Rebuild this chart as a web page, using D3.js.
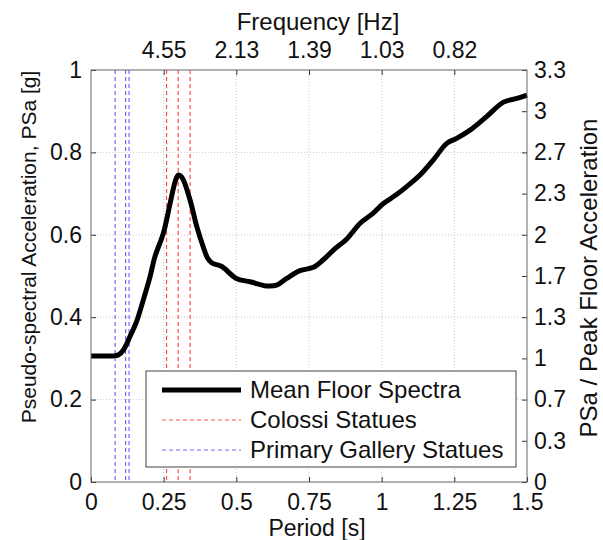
<!DOCTYPE html>
<meta charset="utf-8">
<title>Mean Floor Spectra</title>
<script src="https://d3js.org/d3.v7.min.js"></script>
<style>
  body { margin: 0; background: #fff; }
  text { font-family: Arial, "Liberation Sans", sans-serif; fill: #111; }
</style>
<div id="my_dataviz"></div>
<script>
// mean floor spectrum
var period = [0, 0.05, 0.076, 0.095, 0.111, 0.134, 0.157, 0.18, 0.203, 0.22, 0.249, 0.272, 0.29, 0.3, 0.31, 0.318,
  0.341, 0.364, 0.386, 0.4, 0.415, 0.45, 0.5, 0.547, 0.604, 0.639, 0.673, 0.719, 0.765, 0.8, 0.834,
  0.88, 0.926, 0.97, 1.006, 1.05, 1.086, 1.132, 1.178, 1.224, 1.258, 1.304, 1.361, 1.419, 1.465, 1.5];
var psa = [0.306, 0.306, 0.306, 0.309, 0.32, 0.353, 0.39, 0.442, 0.498, 0.547, 0.604, 0.676, 0.73, 0.745, 0.742, 0.733,
  0.684, 0.62, 0.571, 0.545, 0.532, 0.523, 0.494, 0.486, 0.476, 0.478, 0.494, 0.513, 0.521, 0.54, 0.563,
  0.59, 0.628, 0.652, 0.676, 0.697, 0.717, 0.745, 0.782, 0.822, 0.834, 0.854, 0.887, 0.922, 0.931, 0.939];

var colossi = [0.26, 0.3, 0.341];
var gallery = [0.083, 0.119, 0.131];

var xTicks = [0, 0.25, 0.5, 0.75, 1, 1.25, 1.5];
var xTickLabels = ["0", "0.25", "0.5", "0.75", "1", "1.25", "1.5"];
var yTicks = [0, 0.2, 0.4, 0.6, 0.8, 1];
var freqTicks = [0.25, 0.5, 0.75, 1, 1.25];
var freqLabels = ["4.55", "2.13", "1.39", "1.03", "0.82"];
var ratioTicks = [0, 1/3, 2/3, 1, 4/3, 5/3, 2, 7/3, 8/3, 3, 10/3];
var ratioLabels = ["0", "0.3", "0.7", "1", "1.3", "1.7", "2", "2.3", "2.7", "3", "3.3"];

var legendItems = ["Mean Floor Spectra", "Colossi Statues", "Primary Gallery Statues"];

var W = 603, H = 540;
var margin = {left: 91, right: 527, top: 70, bottom: 482};

var svg = d3.select("#my_dataviz").append("svg")
  .attr("width", W).attr("height", H);

var x = d3.scaleLinear().domain([0, 1.5]).range([margin.left, margin.right]);
var y = d3.scaleLinear().domain([0, 1]).range([margin.bottom, margin.top]);
var y2 = d3.scaleLinear().domain([0, 10/3]).range([margin.bottom, margin.top]);

// dotted grid
svg.append("g").selectAll("line").data(xTicks.slice(1, -1)).enter().append("line")
  .attr("x1", d => x(d)).attr("x2", d => x(d)).attr("y1", margin.top).attr("y2", margin.bottom)
  .style("stroke", "#c8c8c8").style("stroke-width", 1).style("stroke-dasharray", "1,2");
svg.append("g").selectAll("line").data(yTicks.slice(1, -1)).enter().append("line")
  .attr("x1", margin.left).attr("x2", margin.right).attr("y1", d => y(d)).attr("y2", d => y(d))
  .style("stroke", "#c8c8c8").style("stroke-width", 1).style("stroke-dasharray", "1,2");

// statue periods
function vlines(data, color) {
  svg.append("g").selectAll("line").data(data).enter().append("line")
    .attr("x1", d => x(d)).attr("x2", d => x(d)).attr("y1", margin.top).attr("y2", margin.bottom)
    .style("stroke", color).style("stroke-width", 1.2).style("stroke-dasharray", "4,3");
}
vlines(colossi, "#ff5050");
vlines(gallery, "#6a6aff");

// the spectrum
var line = d3.line().x((d, i) => x(period[i])).y(d => y(d)).curve(d3.curveCatmullRom);
svg.append("path").datum(psa)
  .attr("d", line)
  .style("fill", "none").style("stroke", "#000").style("stroke-width", 5)
  .style("stroke-linejoin", "round");

// axes, MATLAB style ticks pointing in
var tk = 5;
var axB = d3.axisBottom(x).tickValues(xTicks).tickSize(-tk).tickPadding(12)
  .tickFormat((d, i) => xTickLabels[i]);
var gB = svg.append("g").attr("transform", "translate(0," + margin.bottom + ")").call(axB);
var axT = d3.axisTop(x).tickValues(freqTicks).tickSize(-tk).tickPadding(12)
  .tickFormat((d, i) => freqLabels[i]);
var gT = svg.append("g").attr("transform", "translate(0," + margin.top + ")").call(axT);
var axL = d3.axisLeft(y).tickValues(yTicks).tickSize(-tk).tickPadding(9)
  .tickFormat(d3.format("~g"));
var gL = svg.append("g").attr("transform", "translate(" + margin.left + ",0)").call(axL);
var axR = d3.axisRight(y2).tickValues(ratioTicks).tickSize(-tk).tickPadding(7)
  .tickFormat((d, i) => ratioLabels[i]);
var gR = svg.append("g").attr("transform", "translate(" + margin.right + ",0)").call(axR);

[gB, gT, gL, gR].forEach(function(g) {
  g.select(".domain").remove();
  g.selectAll(".tick line").style("stroke", "#333");
  g.selectAll(".tick text").style("font-size", "23px").style("font-family", "Arial, 'Liberation Sans', sans-serif").style("fill", "#111");
});

// plot box
svg.append("rect").attr("x", margin.left).attr("y", margin.top)
  .attr("width", margin.right - margin.left).attr("height", margin.bottom - margin.top)
  .style("fill", "none").style("stroke", "#666").style("stroke-width", 1);

// legend
var lg = svg.append("g");
lg.append("rect").attr("x", 146).attr("y", 371).attr("width", 370).attr("height", 96)
  .style("fill", "#fff").style("stroke", "#444").style("stroke-width", 1);
var legStyles = [
  {color: "#000", width: 5, dash: null},
  {color: "#ff5050", width: 1.2, dash: "4,3"},
  {color: "#6a6aff", width: 1.2, dash: "4,3"}
];
legendItems.forEach(function(name, i) {
  var ly = 390 + i * 30;
  lg.append("line").attr("x1", 162).attr("x2", 241).attr("y1", ly).attr("y2", ly)
    .style("stroke", legStyles[i].color).style("stroke-width", legStyles[i].width)
    .style("stroke-dasharray", legStyles[i].dash);
  lg.append("text").attr("x", 250).attr("y", ly).attr("dy", "0.35em")
    .style("font-size", "24px").text(name);
});

// titles
svg.append("text").attr("x", 317).attr("y", 536).attr("text-anchor", "middle")
  .style("font-size", "23px").text("Period [s]");
svg.append("text").attr("x", 318).attr("y", 30).attr("text-anchor", "middle")
  .style("font-size", "24px").text("Frequency [Hz]");
svg.append("text").attr("transform", "translate(36,247) rotate(-90)").attr("text-anchor", "middle")
  .style("font-size", "21px").text("Pseudo-spectral Acceleration, PSa [g]");
svg.append("text").attr("transform", "translate(597,278) rotate(-90)").attr("text-anchor", "middle")
  .style("font-size", "24px").text("PSa / Peak Floor Acceleration");
</script>
